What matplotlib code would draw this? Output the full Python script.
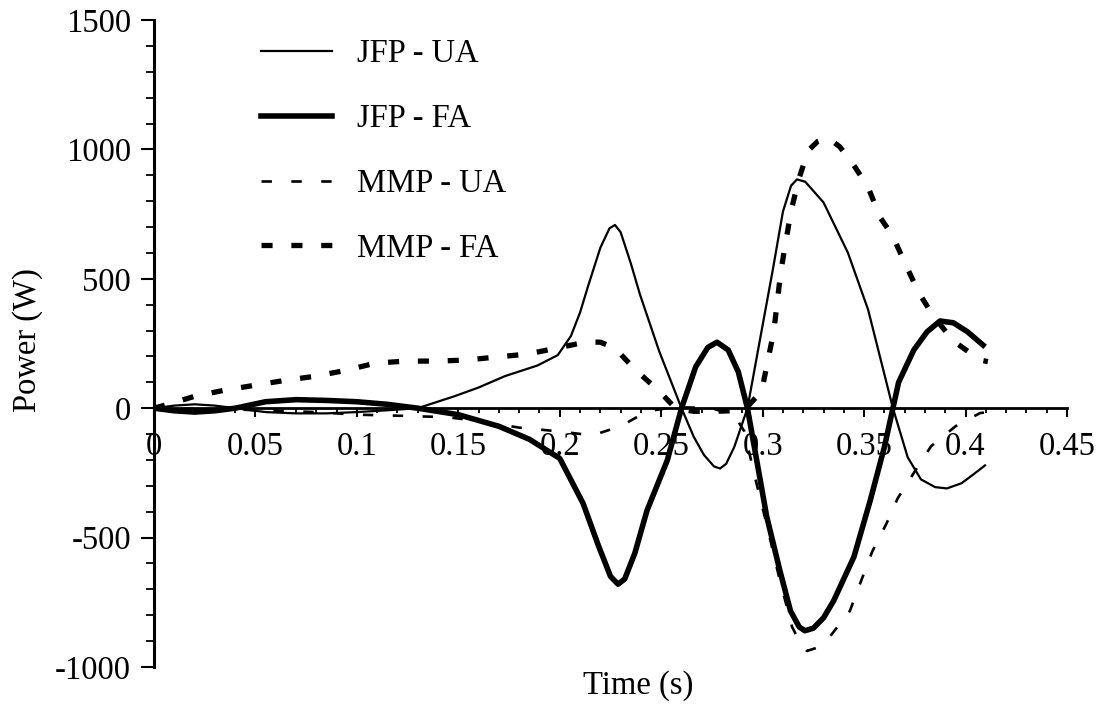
import matplotlib
matplotlib.use("Agg")
import matplotlib.pyplot as plt
from matplotlib.ticker import MultipleLocator, FixedLocator, FixedFormatter

plt.rcParams['font.family'] = ['Liberation Serif', 'DejaVu Serif']
plt.rcParams['lines.scale_dashes'] = False

# ---------------- data ----------------
t_jfp_ua = [0.000, 0.010, 0.020, 0.030, 0.040, 0.055, 0.070, 0.085, 0.100, 0.115, 0.130,
            0.148, 0.160, 0.173, 0.189, 0.199, 0.2055, 0.210, 0.214, 0.220, 0.2245, 0.2272,
            0.230, 0.235, 0.2395, 0.249, 0.2600, 0.266, 0.271, 0.276, 0.2790, 0.282, 0.286,
            0.2925, 0.299, 0.305, 0.310, 0.314, 0.3169, 0.321, 0.330, 0.342, 0.352, 0.3642,
            0.3715, 0.378, 0.385, 0.3908, 0.398, 0.404, 0.4096]
p_jfp_ua = [0, 10, 15, 10, 0, -15, -20, -20, -15, -8, 0,
            46, 80, 124, 165, 205, 279, 370, 473, 620, 695, 708,
            680, 560, 440, 220, 0, -110, -180, -225, -233, -215, -150,
            0, 279, 535, 760, 860, 884, 875, 795, 601, 380, 0,
            -190, -275, -305, -310, -290, -255, -221]

t_jfp_fa = [0.000, 0.010, 0.020, 0.030, 0.040, 0.055, 0.070, 0.085, 0.100, 0.115, 0.130,
            0.150, 0.170, 0.185, 0.200, 0.2115, 0.219, 0.225, 0.2287, 0.232, 0.237, 0.243,
            0.253, 0.2600, 0.267, 0.273, 0.2775, 0.283, 0.288, 0.2925, 0.302, 0.3085, 0.3137,
            0.318, 0.3208, 0.325, 0.330, 0.335, 0.345, 0.353, 0.360, 0.3642, 0.367, 0.3745,
            0.381, 0.3874, 0.394, 0.401, 0.4086]
p_jfp_fa = [0, -10, -15, -10, 0, 25, 33, 30, 25, 15, 0,
            -25, -70, -120, -194, -368, -530, -650, -680, -660, -560, -395,
            -201, 0, 160, 235, 255, 225, 140, 0, -419, -628, -783,
            -845, -860, -850, -810, -744, -574, -357, -150, 0, 100, 225,
            295, 337, 330, 295, 244]

t_mmp_ua = [0.000, 0.020, 0.040, 0.060, 0.080, 0.100, 0.125, 0.145, 0.160, 0.180, 0.200,
            0.216, 0.230, 0.243, 0.253, 0.263, 0.275, 0.286, 0.291, 0.296, 0.302, 0.308,
            0.3145, 0.319, 0.3218, 0.327, 0.333, 0.343, 0.348, 0.354, 0.361, 0.3665, 0.375,
            0.383, 0.395, 0.4071, 0.411]
p_mmp_ua = [0, -3, -5, -10, -15, -25, -30, -35, -50, -75, -90,
            -105, -70, -12, 0, 3, 0, -27, -90, -260, -450, -650,
            -845, -915, -938, -925, -884, -783, -678, -554, -446, -349, -244,
            -147, -70, -19, -15]

t_mmp_fa = [0.000, 0.010, 0.020, 0.035, 0.050, 0.065, 0.080, 0.095, 0.109, 0.124, 0.139,
            0.154, 0.169, 0.184, 0.199, 0.213, 0.220, 0.227, 0.238, 0.249, 0.257, 0.266,
            0.276, 0.285, 0.293, 0.2995, 0.3055, 0.309, 0.3115, 0.314, 0.318, 0.3225, 0.327,
            0.3322, 0.338, 0.344, 0.352, 0.358, 0.364, 0.3705, 0.377, 0.384, 0.394, 0.4071,
            0.411]
p_mmp_fa = [0, 22, 46, 70, 89, 108, 124, 147, 174, 182, 182,
            186, 198, 209, 233, 256, 255, 233, 143, 66, 0, -12,
            -12, -10, 10, 66, 298, 531, 647, 763, 890, 996, 1030,
            1045, 1010, 950, 853, 736, 667, 554, 446, 357, 260, 186,
            180]

labels = ['JFP - UA', 'JFP - FA', 'MMP - UA', 'MMP - FA']
x_ticks = [0, 0.05, 0.1, 0.15, 0.2, 0.25, 0.3, 0.35, 0.4, 0.45]
x_tick_labels = ['0', '0.05', '0.1', '0.15', '0.2', '0.25', '0.3', '0.35', '0.4', '0.45']
y_ticks = [-1000, -500, 0, 500, 1000, 1500]
y_tick_labels = ['-1000', '-500', '0', '500', '1000', '1500']

# ---------------- figure ----------------
W, H = 1110, 709
fig = plt.figure(figsize=(W / 100, H / 100), dpi=100)
left_px, right_px, top_px, bot_px = 154, 1067, 20, 667
ax = fig.add_axes([left_px / W, 1 - bot_px / H, (right_px - left_px) / W, (bot_px - top_px) / H])

ax.plot(t_jfp_ua, p_jfp_ua, color='black', lw=1.6, solid_joinstyle='round', label=labels[0])
ax.plot(t_jfp_fa, p_jfp_fa, color='black', lw=4.0, solid_joinstyle='round', label=labels[1])
l3, = ax.plot(t_mmp_ua, p_mmp_ua, color='black', lw=1.9, label=labels[2])
l3.set_dashes([7.5, 14])
l4, = ax.plot(t_mmp_fa, p_mmp_fa, color='black', lw=3.8, label=labels[3])
l4.set_dashes([8.0, 13.5])

ax.set_xlim(0, 0.45)
ax.set_ylim(-1000, 1500)

for s in ['top', 'right']:
    ax.spines[s].set_visible(False)
ax.spines['bottom'].set_position(('data', 0))
ax.spines['left'].set_linewidth(2.2)
ax.spines['bottom'].set_linewidth(2.0)

ax.xaxis.set_major_locator(FixedLocator(x_ticks))
ax.xaxis.set_major_formatter(FixedFormatter(x_tick_labels))
ax.xaxis.set_minor_locator(MultipleLocator(0.01))
ax.yaxis.set_major_locator(FixedLocator(y_ticks))
ax.yaxis.set_major_formatter(FixedFormatter(y_tick_labels))
ax.yaxis.set_minor_locator(MultipleLocator(100))

ax.tick_params(axis='x', which='major', direction='out', length=6.5, width=1.5,
               pad=10.5, labelsize=23.5)
ax.tick_params(axis='x', which='minor', direction='out', length=3.8, width=1.3)
ax.tick_params(axis='y', which='major', direction='out', length=9.4, width=1.5,
               pad=7, labelsize=23.5)
ax.tick_params(axis='y', which='minor', direction='out', length=5.8, width=1.3)

fig.text(28 / W, 1 - 340 / H, 'Power (W)', rotation=90, ha='center', va='center', fontsize=23.5)
fig.text(638 / W, 1 - 686 / H, 'Time (s)', ha='center', va='center', fontsize=23.5)

leg = ax.legend(loc='upper left', bbox_to_anchor=(261 / W, 1 - 39 / H),
                bbox_transform=fig.transFigure, frameon=False, fontsize=23.5,
                handlelength=2.18, handletextpad=0.77, labelspacing=1.05,
                borderpad=0, borderaxespad=0)

fig.savefig('out.png', dpi=100)
